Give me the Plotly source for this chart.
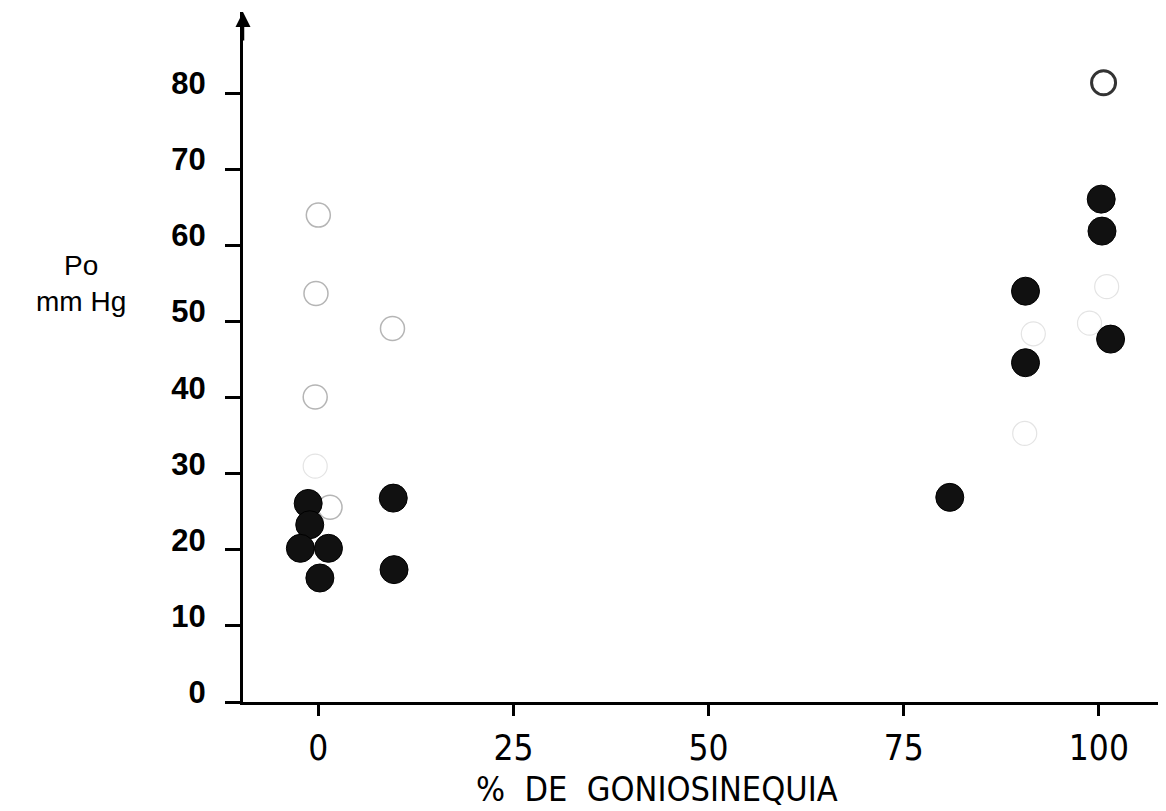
import plotly.graph_objects as go

# Filled circles (solid black)
filled_x = [-1.3, -1.1, -2.3, 1.3, 0.2, 9.6, 9.7, 80.9, 90.6, 90.6, 100.3, 100.4, 101.5]
filled_y = [26.1, 23.3, 20.2, 20.2, 16.3, 26.8, 17.4, 26.9, 54.0, 44.6, 66.1, 61.9, 47.7]

# Open circles (faint outlines in the reference)
open_x = [0.0, -0.3, -0.4, 1.5, 9.5]
open_y = [64.0, 53.7, 40.1, 25.6, 49.1]

# Very faint open circles (only traces left in the reference)
faint_x = [-0.4, 101.0, 98.8, 91.6, 90.5]
faint_y = [31.0, 54.6, 49.8, 48.4, 35.3]

# Dark open circle
dark_open_x = [100.6]
dark_open_y = [81.4]

y_ticks = [0, 10, 20, 30, 40, 50, 60, 70, 80]
x_ticks = [0, 25, 50, 75, 100]

NARROW = "Liberation Sans Narrow, DejaVu Sans Condensed, Liberation Sans, sans-serif"

fig = go.Figure()

fig.add_trace(go.Scatter(
    x=faint_x, y=faint_y, mode="markers",
    marker=dict(symbol="circle", size=24, color="rgba(255,255,255,0)",
                line=dict(color="#e4e4e4", width=1.2)),
    hoverinfo="skip", showlegend=False))

fig.add_trace(go.Scatter(
    x=open_x, y=open_y, mode="markers",
    marker=dict(symbol="circle", size=24, color="rgba(255,255,255,0)",
                line=dict(color="#b5b5b5", width=1.5)),
    showlegend=False))

fig.add_trace(go.Scatter(
    x=filled_x, y=filled_y, mode="markers",
    marker=dict(symbol="circle", size=28, color="#111111",
                line=dict(color="#000000", width=1)),
    showlegend=False))

fig.add_trace(go.Scatter(
    x=dark_open_x, y=dark_open_y, mode="markers",
    marker=dict(symbol="circle", size=24, color="#ffffff",
                line=dict(color="#333333", width=3)),
    showlegend=False))

fig.update_layout(
    width=1158, height=803,
    margin=dict(l=235, r=0, t=4, b=109),
    paper_bgcolor="white", plot_bgcolor="white",
    showlegend=False,
    xaxis=dict(
        range=[-9.65, 108.6], tickvals=x_ticks,
        ticktext=[str(v) for v in x_ticks],
        showgrid=False, zeroline=False,
        showline=True, linecolor="black", linewidth=3,
        ticks="outside", ticklen=11, tickwidth=2.5, tickcolor="black",
        ticklabelstandoff=2,
        tickfont=dict(family=NARROW, size=35, color="black"),
    ),
    yaxis=dict(
        range=[0, 90.7], tickvals=y_ticks,
        ticktext=[str(v) for v in y_ticks],
        showgrid=False, zeroline=False,
        showline=True, linecolor="black", linewidth=3,
        ticks="outside", ticklen=15, tickwidth=2.5, tickcolor="black",
        ticklabelstandoff=13, ticklabelshift=-10,
        tickfont=dict(family="Liberation Sans, sans-serif", size=31,
                      color="black", weight="bold"),
    ),
    annotations=[
        dict(xref="paper", yref="paper", x=0, y=1.0, ax=0, ay=30,
             axref="pixel", ayref="pixel",
             showarrow=True, arrowhead=2, arrowsize=1.2, arrowwidth=2.5,
             arrowcolor="black", text=""),
        dict(xref="paper", yref="paper", x=-0.1755, y=0.607,
             xanchor="center", yanchor="middle", showarrow=False,
             text="Po<br>mm Hg", align="center",
             font=dict(family="Liberation Sans, sans-serif", size=28, color="black")),
        dict(xref="paper", yref="paper", x=0.4485, y=-0.126,
             xanchor="center", yanchor="middle", showarrow=False,
             text="%  DE  GONIOSINEQUIA",
             font=dict(family=NARROW, size=34, color="black")),
    ],
)

fig.write_html("out.html")
